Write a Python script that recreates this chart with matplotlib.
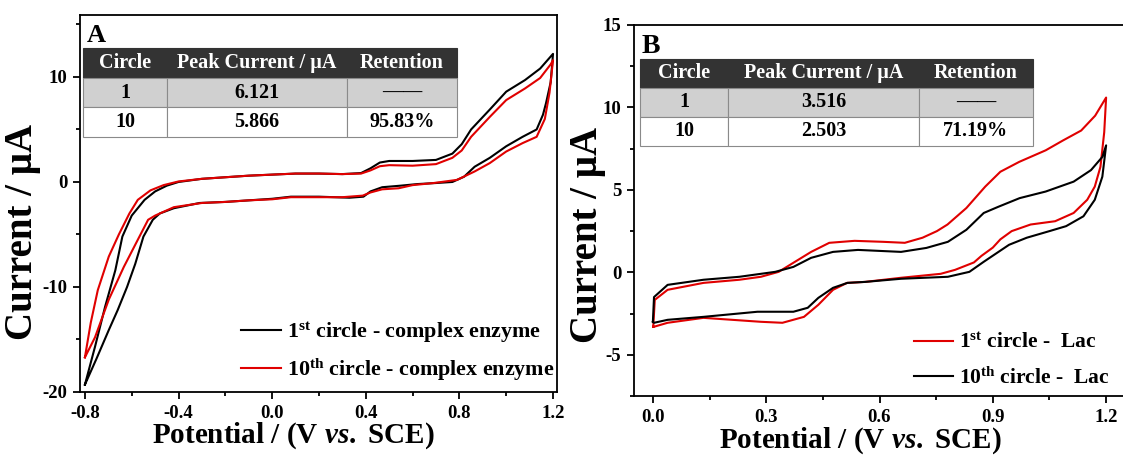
import matplotlib
matplotlib.use('Agg')
import matplotlib.pyplot as plt
from matplotlib.ticker import MultipleLocator

plt.rcParams['font.family'] = 'Liberation Serif'
plt.rcParams['font.weight'] = 'bold'
plt.rcParams['axes.labelweight'] = 'bold'
plt.rcParams['axes.unicode_minus'] = False
plt.rcParams['mathtext.fontset'] = 'custom'
plt.rcParams['mathtext.rm'] = 'Liberation Serif:bold'
plt.rcParams['mathtext.bf'] = 'Liberation Serif:bold'
plt.rcParams['mathtext.it'] = 'Liberation Serif:italic:bold'

# ---- panel A: complex enzyme, cycles 1 and 10 (closed CV loops) ----
a1_v = [-0.800, -0.757, -0.714, -0.670, -0.640, -0.600, -0.545, -0.500, -0.450, -0.400,
        -0.300, -0.200, -0.100, 0.000, 0.100, 0.200, 0.300, 0.380, 0.420, 0.460, 0.500,
        0.600, 0.700, 0.770, 0.810, 0.850, 0.930, 1.000, 1.080, 1.145, 1.200,
        1.190, 1.170, 1.157, 1.130, 1.070, 1.000, 0.930, 0.865, 0.820, 0.770, 0.700,
        0.620, 0.550, 0.470, 0.420, 0.390, 0.330, 0.200, 0.080, 0.000, -0.100, -0.200,
        -0.310, -0.420, -0.480, -0.510, -0.550, -0.585, -0.620, -0.660, -0.698, -0.750, -0.800]
a1_i = [-19.3, -15.7, -11.9, -8.4, -5.2, -3.2, -1.7, -0.9, -0.35, 0.0,
        0.3, 0.45, 0.6, 0.7, 0.8, 0.8, 0.75, 0.85, 1.3, 1.85, 2.0,
        2.0, 2.1, 2.7, 3.6, 5.0, 6.9, 8.6, 9.7, 10.8, 12.2,
        9.5, 7.5, 6.4, 5.0, 4.3, 3.4, 2.3, 1.45, 0.5, 0.0, -0.1,
        -0.2, -0.35, -0.5, -0.9, -1.4, -1.5, -1.4, -1.4, -1.6, -1.75, -1.9,
        -2.0, -2.5, -3.0, -3.6, -5.2, -7.8, -10.0, -12.2, -14.1, -16.8, -19.3]

a10_v = [-0.800, -0.775, -0.745, -0.698, -0.655, -0.610, -0.574, -0.520, -0.464, -0.400,
         -0.300, -0.200, -0.100, 0.000, 0.100, 0.200, 0.300, 0.380, 0.420, 0.460, 0.500,
         0.600, 0.700, 0.770, 0.810, 0.850, 0.930, 1.000, 1.080, 1.145, 1.190, 1.200,
         1.185, 1.165, 1.130, 1.070, 1.000, 0.930, 0.865, 0.790, 0.690, 0.600, 0.540,
         0.470, 0.420, 0.387, 0.300, 0.200, 0.080, 0.000, -0.100, -0.200, -0.300, -0.420,
         -0.500, -0.530, -0.574, -0.634, -0.698, -0.757, -0.800]
a10_i = [-16.7, -13.4, -10.3, -7.1, -5.0, -3.0, -1.7, -0.8, -0.3, 0.05,
         0.3, 0.45, 0.6, 0.7, 0.8, 0.8, 0.75, 0.8, 1.1, 1.5, 1.6,
         1.55, 1.7, 2.3, 3.0, 4.3, 6.2, 7.8, 8.9, 9.9, 11.2, 11.6,
         8.5, 6.0, 4.3, 3.7, 2.9, 1.8, 1.0, 0.2, -0.1, -0.3, -0.6,
         -0.7, -1.0, -1.3, -1.45, -1.45, -1.45, -1.65, -1.75, -1.9, -2.0, -2.4,
         -3.2, -3.6, -5.5, -8.1, -11.2, -14.8, -16.7]

# ---- panel B: laccase, cycles 1 and 10 ----
b1_v = [0.001, 0.005, 0.039, 0.134, 0.229, 0.286, 0.333, 0.372, 0.419, 0.467, 0.534,
        0.610, 0.667, 0.714, 0.752, 0.780, 0.830, 0.880, 0.920, 0.970, 1.040, 1.086,
        1.134, 1.171, 1.200,
        1.195, 1.185, 1.170, 1.150, 1.114, 1.065, 1.000, 0.950, 0.920, 0.900, 0.870,
        0.850, 0.800, 0.762, 0.657, 0.562, 0.514, 0.477, 0.438, 0.400, 0.343, 0.286,
        0.134, 0.039, 0.003, 0.001]
b1_i = [-3.3, -1.67, -1.06, -0.64, -0.45, -0.27, 0.03, 0.58, 1.24, 1.79, 1.91,
        1.85, 1.79, 2.1, 2.5, 2.9, 3.9, 5.2, 6.1, 6.7, 7.4, 8.0,
        8.6, 9.5, 10.6,
        8.5, 6.4, 5.2, 4.4, 3.6, 3.1, 2.9, 2.5, 2.0, 1.5, 1.0,
        0.6, 0.15, -0.09, -0.33, -0.58, -0.64, -1.06, -1.97, -2.7, -3.06, -3.0,
        -2.76, -3.06, -3.3, -3.3]

b10_v = [0.000, 0.003, 0.039, 0.134, 0.229, 0.324, 0.372, 0.419, 0.477, 0.543, 0.657,
         0.724, 0.781, 0.830, 0.876, 0.914, 0.971, 1.040, 1.114, 1.160, 1.190, 1.200,
         1.190, 1.170, 1.140, 1.094, 1.050, 0.990, 0.943, 0.876, 0.838, 0.781, 0.657,
         0.562, 0.515, 0.477, 0.438, 0.410, 0.372, 0.277, 0.134, 0.039, 0.003, 0.000]
b10_i = [-3.0, -1.5, -0.76, -0.45, -0.27, 0.03, 0.33, 0.88, 1.24, 1.36, 1.24,
         1.48, 1.85, 2.58, 3.6, 3.97, 4.5, 4.9, 5.5, 6.2, 7.0, 7.7,
         5.8, 4.4, 3.4, 2.8, 2.5, 2.1, 1.67, 0.64, 0.03, -0.27, -0.39,
         -0.58, -0.64, -0.94, -1.55, -2.15, -2.39, -2.39, -2.7, -2.88, -3.06, -3.0]

# inset tables
tbl_cols = ['Circle', 'Peak Current / µA', 'Retention']
tbl_a = [['1', '6.121', '——'], ['10', '5.866', '95.83%']]
tbl_b = [['1', '3.516', '——'], ['10', '2.503', '71.19%']]

fig = plt.figure(figsize=(11.23, 4.59), dpi=100)
axA = fig.add_axes([80 / 1123, 67 / 459, 477 / 1123, 377 / 459])
axB = fig.add_axes([634 / 1123, 63 / 459, 491 / 1123, 371 / 459])

lw = 1.5
axA.plot(a1_v, a1_i, color='black', lw=lw,
         label=r'1$^{\rm st}$ circle - complex enzyme')
axA.plot(a10_v, a10_i, color='#e00000', lw=lw,
         label=r'10$^{\rm th}$ circle - complex enzyme')
axB.plot(b1_v, b1_i, color='#e00000', lw=lw, label=r'1$^{\rm st}$ circle -  Lac')
axB.plot(b10_v, b10_i, color='black', lw=lw, label=r'10$^{\rm th}$ circle -  Lac')

axA.set_xlim(-0.821, 1.217)
axA.set_ylim(-20, 15.9)
axA.xaxis.set_minor_locator(MultipleLocator(0.2))
axA.yaxis.set_major_locator(MultipleLocator(10))
axA.yaxis.set_minor_locator(MultipleLocator(5))
axA.set_xticks([-0.8, -0.4, 0.0, 0.4, 0.8, 1.2])
axA.set_xticklabels(['-0.8', '-0.4', '0.0', '0.4', '0.8', '1.2'])

axB.set_xlim(-0.05, 1.25)
axB.set_ylim(-7.5, 15)
axB.xaxis.set_minor_locator(MultipleLocator(0.15))
axB.set_xticks([0.0, 0.3, 0.6, 0.9, 1.2])
axB.set_xticklabels(['0.0', '0.3', '0.6', '0.9', '1.2'])
axB.yaxis.set_major_locator(MultipleLocator(5))
axB.yaxis.set_minor_locator(MultipleLocator(2.5))
axB.spines['right'].set_visible(False)

for ax in (axA, axB):
    for s in ax.spines.values():
        s.set_linewidth(1.3)
    ax.tick_params(which='both', direction='out', top=False, right=False,
                   width=1.3, labelsize=13.5)
    ax.tick_params(which='major', length=5, pad=4)
    ax.tick_params(which='minor', length=3)
    ax.set_xlabel(r'Potential / (V $\mathit{vs.}$ SCE)', fontsize=21)
    ax.set_ylabel('Current / µA', fontsize=28)
    ax.xaxis.label.set_va('top')

axA.xaxis.set_label_coords(0.447, -0.076)
axB.xaxis.set_label_coords(0.462, -0.08)
axA.yaxis.set_label_coords(-0.082, 0.424)
axB.yaxis.set_label_coords(-0.058, 0.434)

axA.text(0.015, 0.975, 'A', transform=axA.transAxes, fontsize=19, va='top', ha='left')
axB.text(0.015, 0.975, 'B', transform=axB.transAxes, fontsize=20, va='top', ha='left')

axA.legend(loc='lower right', bbox_to_anchor=(0.995, 0.025), frameon=False,
           fontsize=15.8, handlelength=1.8, handletextpad=0.3, labelspacing=0.5,
           borderpad=0, borderaxespad=0)
axB.legend(loc='lower left', bbox_to_anchor=(0.57, 0.02), frameon=False,
           fontsize=15.5, handlelength=1.8, handletextpad=0.3, labelspacing=0.65,
           borderpad=0, borderaxespad=0)


def add_table(ax, rows, bbox, widths):
    t = ax.table(cellText=[tbl_cols] + rows, bbox=bbox, colWidths=widths,
                 cellLoc='center')
    t.auto_set_font_size(False)
    t.set_fontsize(14.5)
    for (r, c), cell in t.get_celld().items():
        cell.set_linewidth(0.8)
        cell.get_text().set_fontweight('bold')
        if r == 0:
            cell.set_facecolor('#333333')
            cell.set_edgecolor('#333333')
            cell.get_text().set_color('white')
        elif r == 1:
            cell.set_facecolor('#d0d0d0')
            cell.set_edgecolor('#8a8a8a')
        else:
            cell.set_facecolor('white')
            cell.set_edgecolor('#8a8a8a')
    t.set_zorder(5)
    return t


add_table(axA, tbl_a, [0.0063, 0.676, 0.784, 0.236], [0.2246, 0.4813, 0.2941])
add_table(axB, tbl_b, [0.0122, 0.674, 0.800, 0.2345], [0.224, 0.486, 0.290])

fig.savefig('out.png', dpi=100)
